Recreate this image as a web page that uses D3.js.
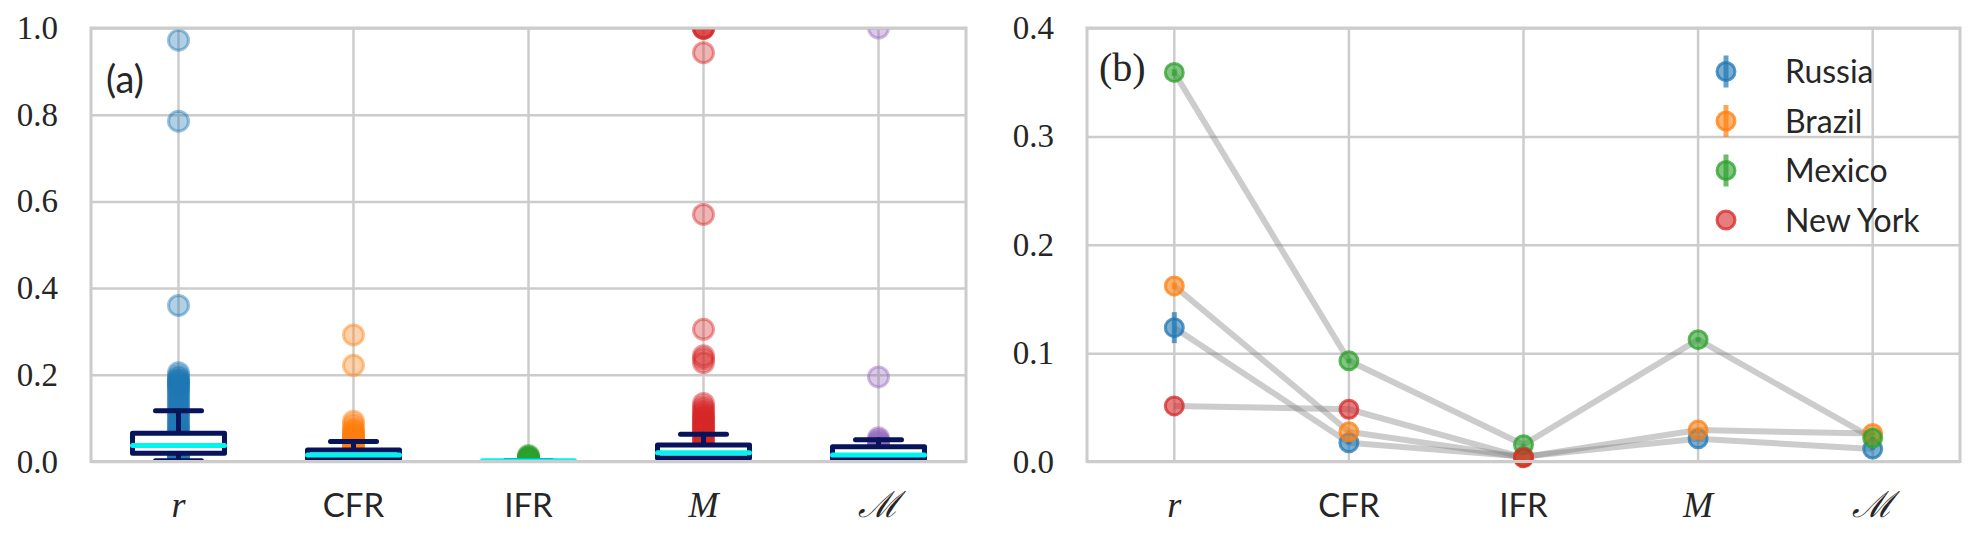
<!DOCTYPE html>
<html><head><meta charset="utf-8">
<script src="https://cdn.jsdelivr.net/npm/d3@7"></script>
<style>body{margin:0;background:#fff}svg{display:block}</style>
</head><body>
<svg id="chart" width="1974" height="537"></svg>
<script>
// ---------- data ----------
const categories = ["r", "CFR", "IFR", "M", "ℳ"];
const categoryIsMath = [true, false, false, true, true];
const yTicksA = [0, 0.2, 0.4, 0.6, 0.8, 1.0];
const yTicksB = [0, 0.1, 0.2, 0.3, 0.4];

// panel (a): all values per metric
const rValues = [0.972, 0.785, 0.36, 0.205, 0.197, 0.192, 0.188, 0.185, 0.182, 0.179, 0.176, 0.172, 0.168, 0.163, 0.158, 0.152, 0.146, 0.14, 0.134, 0.128, 0.121, 0.115, 0.109, 0.103, 0.097, 0.091, 0.086, 0.081, 0.076, 0.071, 0.066, 0.06, 0.054, 0.048, 0.043, 0.038, 0.034, 0.03, 0.026, 0.022, 0.018, 0.015, 0.012, 0.009, 0.006, 0.003];
const cfrValues = [0.292, 0.222, 0.093, 0.085, 0.076, 0.071, 0.067, 0.063, 0.06, 0.057, 0.054, 0.051, 0.048, 0.045, 0.042, 0.039, 0.036, 0.033, 0.03, 0.026, 0.022, 0.018, 0.014, 0.01, 0.006, 0.003];
const ifrValues = [0.014, 0.012, 0.01, 0.008, 0.007, 0.006, 0.005, 0.004, 0.003, 0.002];
const mValues = [1.0, 1.0, 1.0, 0.999, 0.943, 0.57, 0.305, 0.244, 0.237, 0.228, 0.134, 0.126, 0.119, 0.113, 0.108, 0.103, 0.099, 0.095, 0.091, 0.087, 0.083, 0.079, 0.075, 0.071, 0.067, 0.062, 0.057, 0.052, 0.047, 0.042, 0.037, 0.032, 0.027, 0.022, 0.017, 0.012, 0.008];
const mcalValues = [1.0, 0.195, 0.055, 0.05, 0.046, 0.042, 0.038, 0.034, 0.03, 0.026, 0.022, 0.018, 0.014, 0.01, 0.006];
const valuesA = [rValues, cfrValues, ifrValues, mValues, mcalValues];

// box statistics
const boxLow    = [0.002, 0.001, 0.0015, 0.001, 0.001];
const boxQ1     = [0.019, 0.007, 0.0018, 0.008, 0.006];
const boxMedian = [0.037, 0.015, 0.002, 0.020, 0.015];
const boxQ3     = [0.065, 0.0265, 0.0022, 0.038, 0.034];
const boxHigh   = [0.117, 0.046, 0.0025, 0.063, 0.050];

// panel (b): per-country estimates
const countries = ["Russia", "Brazil", "Mexico", "New York"];
const russia    = [0.1235, 0.0173, 0.0045, 0.021, 0.0115];
const brazil    = [0.162, 0.0274, 0.004, 0.029, 0.0258];
const mexico    = [0.359, 0.0929, 0.0155, 0.1124, 0.0216];
const newYork   = [0.0513, 0.0482, 0.0035, null, null];
const russiaErr = [0.0143, 0.0015, 0.0005, 0.0015, 0.001];
const brazilErr = [0.003, 0.0015, 0.0005, 0.0015, 0.001];
const mexicoErr = [0.003, 0.002, 0.0008, 0.002, 0.001];
const newYorkErr = [0, 0, 0, null, null];
const seriesB = [russia, brazil, mexico, newYork];
const errorsB = [russiaErr, brazilErr, mexicoErr, newYorkErr];

const colors = ["#1f77b4", "#ff7f0e", "#2ca02c", "#d62728", "#9467bd"];

// ---------- layout ----------
const svg = d3.select("#chart");
const yTop = 28, yBottom = 461.5;
const panA = {x0: 91, x1: 966};
const panB = {x0: 1087, x1: 1960};
const gridColor = "#cccccc";
const textColor = "#262626";
const serif = "'Liberation Serif', 'DejaVu Serif', serif";
const sans = "Lato, 'Open Sans', 'DejaVu Sans', sans-serif";
const navy = "#07135a";
const cyan = "#00f5ef";

const xA = d3.scaleBand().domain(categories).range([panA.x0, panA.x1]).padding(0);
const xB = d3.scaleBand().domain(categories).range([panB.x0, panB.x1]).padding(0);
const yA = d3.scaleLinear().domain([0, 1]).range([yBottom, yTop]);
const yB = d3.scaleLinear().domain([0, 0.4]).range([yBottom, yTop]);

function drawAxes(x, y, ticks, fmt, pan) {
  const g = svg.append("g");
  const w = pan.x1 - pan.x0, h = yBottom - yTop;
  const gy = g.append("g").attr("transform", `translate(${pan.x0},0)`)
    .call(d3.axisLeft(y).tickValues(ticks).tickFormat(fmt).tickSize(-w).tickPadding(33));
  gy.select(".domain").remove();
  gy.selectAll("line").attr("stroke", gridColor).attr("stroke-width", 2.5);
  gy.selectAll("text").attr("fill", textColor).style("font-family", serif).style("font-size", "33px");
  const gx = g.append("g").attr("transform", `translate(0,${yBottom})`)
    .call(d3.axisBottom(x).tickSize(-h));
  gx.select(".domain").remove();
  gx.selectAll("line").attr("stroke", gridColor).attr("stroke-width", 2.5);
  gx.selectAll("text").attr("fill", textColor).attr("y", 55).attr("dy", 0)
    .each(function(d, i) {
      const t = d3.select(this);
      if (categoryIsMath[i]) {
        t.style("font-family", serif).style("font-style", "italic").style("font-size", "36px");
      } else {
        t.style("font-family", sans).style("font-size", "33px");
      }
    });
  return g;
}
function drawFrame(pan) {
  svg.append("rect").attr("x", pan.x0).attr("y", yTop)
    .attr("width", pan.x1 - pan.x0).attr("height", yBottom - yTop)
    .attr("fill", "none").attr("stroke", gridColor).attr("stroke-width", 3);
}

// ---------- panel (a) ----------
drawAxes(xA, yA, yTicksA, d3.format(".1f"), panA);
svg.append("clipPath").attr("id", "clipA").append("rect")
  .attr("x", panA.x0).attr("y", yTop).attr("width", panA.x1 - panA.x0).attr("height", yBottom - yTop);
const gA = svg.append("g").attr("clip-path", "url(#clipA)");
categories.forEach((c, i) => {
  const cx = xA(c) + xA.bandwidth() / 2;
  gA.append("g").selectAll("circle").data(valuesA[i]).join("circle")
    .attr("cx", cx).attr("cy", d => yA(d)).attr("r", 10)
    .attr("fill", colors[i]).attr("fill-opacity", 0.35)
    .attr("stroke", colors[i]).attr("stroke-opacity", 0.45).attr("stroke-width", 3);
});
categories.forEach((c, i) => {
  const cx = xA(c) + xA.bandwidth() / 2;
  const hw = 46, cw = 23;
  const g = gA.append("g").attr("stroke", navy).attr("stroke-width", 5).attr("stroke-linecap", "round");
  g.append("line").attr("x1", cx).attr("x2", cx).attr("y1", yA(boxQ3[i])).attr("y2", yA(boxHigh[i]));
  g.append("line").attr("x1", cx).attr("x2", cx).attr("y1", yA(boxQ1[i])).attr("y2", yA(boxLow[i]));
  g.append("line").attr("x1", cx - cw).attr("x2", cx + cw).attr("y1", yA(boxHigh[i])).attr("y2", yA(boxHigh[i]));
  g.append("line").attr("x1", cx - cw).attr("x2", cx + cw).attr("y1", yA(boxLow[i])).attr("y2", yA(boxLow[i]));
  g.append("rect").attr("x", cx - hw).attr("y", yA(boxQ3[i]))
    .attr("width", 2 * hw).attr("height", Math.max(0, yA(boxQ1[i]) - yA(boxQ3[i])))
    .attr("fill", "#fff").attr("stroke-linejoin", "round")
    .attr("stroke-width", i === 2 ? 0 : 5);
  g.append("line").attr("x1", cx - hw).attr("x2", cx + hw)
    .attr("y1", yA(boxMedian[i])).attr("y2", yA(boxMedian[i]))
    .attr("stroke", cyan).attr("stroke-width", 5);
});
drawFrame(panA);
svg.append("text").attr("x", 106).attr("y", 93).text("(a)")
  .attr("fill", textColor).style("font-family", sans).style("font-size", "38px");

// ---------- panel (b) ----------
drawAxes(xB, yB, yTicksB, d3.format(".1f"), panB);
const gB = svg.append("g");
const cxB = c => xB(c) + xB.bandwidth() / 2;
const line = d3.line().defined(d => d.v != null).x(d => cxB(d.c)).y(d => yB(d.v));
seriesB.forEach(s => {
  gB.append("path").datum(s.map((v, j) => ({c: categories[j], v})))
    .attr("d", line).attr("fill", "none")
    .attr("stroke", "#808080").attr("stroke-opacity", 0.4).attr("stroke-width", 6)
    .attr("stroke-linejoin", "round");
});
seriesB.forEach((s, k) => {
  const pts = s.map((v, j) => ({c: categories[j], v, e: errorsB[k][j]})).filter(d => d.v != null);
  gB.append("g").selectAll("line").data(pts.filter(d => d.e > 0)).join("line")
    .attr("x1", d => cxB(d.c)).attr("x2", d => cxB(d.c))
    .attr("y1", d => yB(d.v - d.e)).attr("y2", d => yB(d.v + d.e))
    .attr("stroke", colors[k]).attr("stroke-opacity", 0.7).attr("stroke-width", 5);
  gB.append("g").selectAll("circle").data(pts).join("circle")
    .attr("cx", d => cxB(d.c)).attr("cy", d => yB(d.v)).attr("r", 9)
    .attr("fill", colors[k]).attr("fill-opacity", 0.6)
    .attr("stroke", colors[k]).attr("stroke-opacity", 0.75).attr("stroke-width", 3);
});
drawFrame(panB);
svg.append("text").attr("x", 1099).attr("y", 81).text("(b)")
  .attr("fill", textColor).style("font-family", serif).style("font-size", "40px");

// legend
const legend = svg.append("g");
countries.forEach((name, k) => {
  const ly = 71.5 + k * 49.5, lx = 1726;
  if (k < 3) {
    legend.append("line").attr("x1", lx).attr("x2", lx).attr("y1", ly - 16).attr("y2", ly + 16)
      .attr("stroke", colors[k]).attr("stroke-opacity", 0.7).attr("stroke-width", 5);
  }
  legend.append("circle").attr("cx", lx).attr("cy", ly).attr("r", 9)
    .attr("fill", colors[k]).attr("fill-opacity", 0.6)
    .attr("stroke", colors[k]).attr("stroke-opacity", 0.75).attr("stroke-width", 3);
  legend.append("text").attr("x", 1785).attr("y", ly + 11.5).text(name)
    .attr("fill", textColor).style("font-family", sans).style("font-size", "32px");
});
</script>
</body></html>
